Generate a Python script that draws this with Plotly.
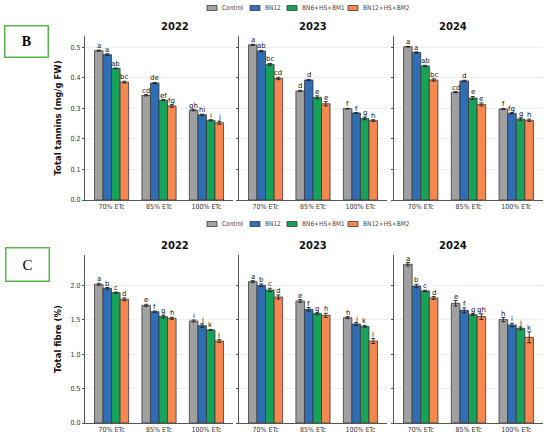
import plotly.graph_objects as go
from plotly.subplots import make_subplots

years = ['2022', '2023', '2024']
levels = ['70% ETc', '85% ETc', '100% ETc']
treatments = ['Control', 'BN12', 'BN6+HS+BM1', 'BN12+HS+BM2']
colors = ['#a0a0a0', '#2f6db5', '#17a25a', '#f5874f']

# total tannins (mg/g FW): [year][treatment][level]
tannins = [
    [[0.489, 0.343, 0.294], [0.476, 0.383, 0.279], [0.431, 0.327, 0.261], [0.386, 0.308, 0.253]],
    [[0.508, 0.357, 0.299], [0.488, 0.393, 0.285], [0.444, 0.336, 0.267], [0.398, 0.315, 0.260]],
    [[0.502, 0.353, 0.298], [0.483, 0.390, 0.284], [0.439, 0.334, 0.265], [0.393, 0.313, 0.261]],
]
tannins_err = [
    [[0.002, 0.002, 0.002], [0.003, 0.002, 0.002], [0.001, 0.002, 0.002], [0.003, 0.004, 0.005]],
    [[0.002, 0.002, 0.001], [0.002, 0.002, 0.001], [0.003, 0.005, 0.004], [0.004, 0.007, 0.003]],
    [[0.001, 0.002, 0.002], [0.002, 0.002, 0.002], [0.002, 0.005, 0.004], [0.004, 0.005, 0.004]],
]
tannins_letters = [
    [['a', 'cd', 'gh'], ['a', 'de', 'hi'], ['ab', 'ef', 'i'], ['bc', 'fg', 'j']],
    [['a', 'd', 'f'], ['ab', 'd', 'f'], ['bc', 'e', 'g'], ['cd', 'e', 'h']],
    [['a', 'cd', 'f'], ['a', 'd', 'fg'], ['ab', 'e', 'g'], ['bc', 'e', 'h']],
]

# total fibre (%)
fibre = [
    [[2.015, 1.709, 1.482], [1.956, 1.617, 1.414], [1.893, 1.545, 1.351], [1.797, 1.521, 1.191]],
    [[2.053, 1.772, 1.530], [2.000, 1.651, 1.438], [1.932, 1.588, 1.404], [1.830, 1.564, 1.191]],
    [[2.305, 1.738, 1.501], [1.990, 1.637, 1.424], [1.918, 1.574, 1.375], [1.816, 1.545, 1.245]],
]
fibre_err = [
    [[0.015, 0.015, 0.015], [0.012, 0.010, 0.025], [0.008, 0.020, 0.008], [0.020, 0.015, 0.020]],
    [[0.015, 0.020, 0.015], [0.020, 0.025, 0.020], [0.025, 0.015, 0.015], [0.030, 0.030, 0.035]],
    [[0.025, 0.040, 0.030], [0.025, 0.035, 0.025], [0.010, 0.015, 0.020], [0.020, 0.040, 0.080]],
]
fibre_letters = [
    [['a', 'e', 'i'], ['b', 'f', 'j'], ['c', 'g', 'k'], ['d', 'h', 'l']],
    [['a', 'e', 'h'], ['b', 'f', 'j'], ['c', 'g', 'k'], ['d', 'h', 'l']],
    [['a', 'e', 'h'], ['b', 'f', 'i'], ['c', 'g', 'j'], ['d', 'gh', 'k']],
]

BARGAP = 0.28
W, H = 550, 439
FONT = 'DejaVu Sans'
FONT_C = 'DejaVu Sans Condensed'

fig = make_subplots(rows=2, cols=3, horizontal_spacing=0.01, vertical_spacing=0.1)

x_domains = [[85 / W, 233 / W], [239 / W, 387 / W], [394 / W, 543 / W]]
y_domains = [[1 - 200 / H, 1 - 36 / H], [1 - 423 / H, 1 - 255 / H]]
legend_y = [8, 224]                 # pixel rows of the two legends
legend_x = [207, 250, 287, 348]     # pixel start of each legend entry

panels = [
    (tannins, tannins_err, tannins_letters, 'Total tannins (mg/g FW)', [0, 0.537], 0.1),
    (fibre, fibre_err, fibre_letters, 'Total fibre (%)', [0, 2.44], 0.5),
]


def ax_id(n):
    return '' if n == 1 else str(n)


bw = (1 - BARGAP) / 4
for r, (vals, errs, letters, ytitle, yrange, dtick) in enumerate(panels):
    for c, year in enumerate(years):
        n = r * 3 + c + 1
        for t, name in enumerate(treatments):
            fig.add_trace(go.Bar(
                x=levels, y=vals[c][t], name=name, showlegend=False,
                marker=dict(color=colors[t], line=dict(color='#3a3a3a', width=0.8)),
                error_y=dict(type='data', array=errs[c][t], color='#222222',
                             thickness=0.9, width=2),
            ), row=r + 1, col=c + 1)
            for i in range(3):
                xpos = i - (1 - BARGAP) / 2 + (t + 0.5) * bw
                fig.add_annotation(
                    x=xpos, y=vals[c][t][i] + errs[c][t][i], text=letters[c][t][i],
                    xref='x' + ax_id(n), yref='y' + ax_id(n),
                    showarrow=False, yanchor='bottom', yshift=-2,
                    font=dict(family=FONT, size=7, color='#111111'))
        xa = 'xaxis' + ax_id(n)
        ya = 'yaxis' + ax_id(n)
        fig.layout[xa].update(domain=x_domains[c], showline=True, linecolor='#555555',
                              linewidth=1, ticks='', automargin=False,
                              tickfont=dict(size=7, family=FONT_C, color='#333333'),
                              range=[-0.56, 2.56])
        fig.layout[ya].update(domain=y_domains[r], range=yrange, dtick=dtick,
                              showline=True, linecolor='#555555', linewidth=1,
                              showgrid=True, gridcolor='#eeeeee', gridwidth=0.8,
                              zeroline=False, ticks='outside', ticklen=2,
                              tickcolor='#555555', tickformat='.1f', automargin=False,
                              showticklabels=(c == 0),
                              tickfont=dict(size=7, family=FONT_C, color='#333333'))
        if c == 0:
            fig.layout[ya].update(title=dict(text='<b>' + ytitle + '</b>', standoff=7,
                                             font=dict(size=8.5, family=FONT, color='#111111')))
        fig.add_annotation(x=(x_domains[c][0] + x_domains[c][1]) / 2, y=y_domains[r][1] + 0.004,
                           xref='paper', yref='paper', text='<b>' + year + '</b>', showarrow=False,
                           yanchor='bottom', font=dict(size=10, family=FONT, color='#111111'))

    # legend row above each panel
    ly = 1 - legend_y[r] / H
    for t, name in enumerate(treatments):
        x0 = legend_x[t] / W
        fig.add_shape(type='rect', xref='paper', yref='paper',
                      x0=x0, x1=x0 + 10 / W, y0=ly - 2.5 / H, y1=ly + 2.5 / H,
                      fillcolor=colors[t], line=dict(color='#3a3a3a', width=0.8))
        fig.add_annotation(x=x0 + 13 / W, y=ly, xref='paper', yref='paper', text=name,
                           showarrow=False, xanchor='left', yanchor='middle',
                           font=dict(size=6.5, family=FONT_C, color='#444444'))

# panel letters in green boxes
fig.add_annotation(x=26 / W, y=1 - 41 / H, xref='paper', yref='paper', text='<b>B</b>',
                   showarrow=False, xanchor='center', yanchor='middle',
                   font=dict(size=14, family='Liberation Serif', color='black'),
                   bordercolor='#55b848', borderwidth=1.5, width=40, height=28, bgcolor='white')
fig.add_annotation(x=27 / W, y=1 - 264 / H, xref='paper', yref='paper', text='C',
                   showarrow=False, xanchor='center', yanchor='middle',
                   font=dict(size=15, family='Liberation Serif', color='black'),
                   bordercolor='#55b848', borderwidth=1.5, width=40, height=30, bgcolor='white')

fig.update_layout(
    width=W, height=H, margin=dict(l=0, r=0, t=0, b=0),
    paper_bgcolor='white', plot_bgcolor='white',
    barmode='group', bargap=BARGAP, bargroupgap=0,
    showlegend=False, hovermode=False,
)

# the page body has a default 8px margin; drop it so the figure fills the window
fig.write_html('out.html', config={'displayModeBar': False},
               post_script="document.body.style.margin = '0';")
